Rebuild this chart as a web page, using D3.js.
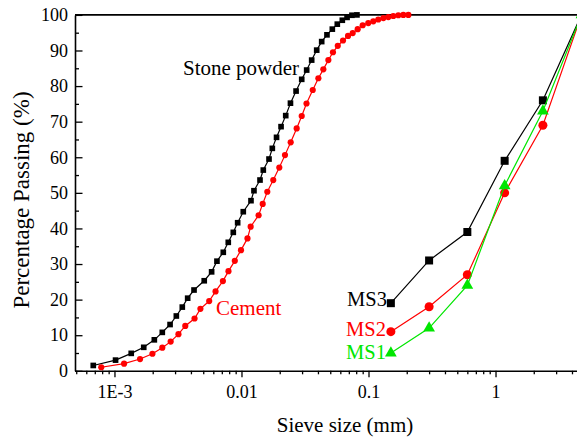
<!DOCTYPE html>
<html>
<head>
<meta charset="utf-8">
<script src="https://cdn.jsdelivr.net/npm/d3@7"></script>
<style>
  body { margin: 0; background: #fff; }
  svg { display: block; }
  svg text { font-family: "Liberation Serif", "Times New Roman", serif !important; }
</style>
</head>
<body>
<div id="chart"></div>
<script>
// stone powder (laser diffraction) - size in mm, % passing
const stoneSize = [0.000681, 0.00102, 0.001355, 0.0017, 0.00206, 0.00238, 0.00274, 0.00307, 0.00342, 0.00377,
  0.00423, 0.00509, 0.00582, 0.00641, 0.00719, 0.00787, 0.00862, 0.00933, 0.01033, 0.01188,
  0.01254, 0.01399, 0.01485, 0.01647, 0.01749, 0.01888, 0.02049, 0.0223, 0.0243, 0.0269,
  0.0298, 0.0326, 0.0357, 0.0391, 0.0428, 0.0471, 0.0519, 0.0568, 0.0622, 0.0678, 0.0741, 0.0811];
const stonePass = [1.5, 3.0, 4.9, 6.6, 8.7, 10.8, 13.0, 15.4, 17.9, 20.4,
  22.7, 25.3, 27.8, 30.8, 33.3, 36.1, 38.9, 41.6, 44.7, 47.8,
  50.6, 53.6, 56.4, 59.5, 62.5, 65.6, 68.6, 71.7, 75.2, 78.6,
  81.9, 84.5, 87.3, 90.1, 92.5, 94.4, 96.0, 97.4, 98.5, 99.3, 99.9, 100];

// cement
const cementSize = [0.000787, 0.00119, 0.00159, 0.00199, 0.00238, 0.00277, 0.00319, 0.00361, 0.00427, 0.00475,
  0.00557, 0.00625, 0.00714, 0.0079, 0.00886, 0.00991, 0.01115, 0.01181, 0.01364, 0.01469,
  0.01597, 0.01779, 0.01985, 0.022, 0.0244, 0.0272, 0.0298, 0.0325, 0.0364, 0.0403,
  0.0441, 0.0483, 0.0525, 0.0573, 0.063, 0.069, 0.0751, 0.0822, 0.09, 0.0996,
  0.1091, 0.1194, 0.1309, 0.1432, 0.1567, 0.1717, 0.188, 0.206];
const cementPass = [1.0, 2.0, 3.3, 4.8, 6.5, 8.2, 10.3, 12.6, 14.7, 17.4,
  19.6, 22.3, 25.2, 28.0, 30.9, 33.9, 37.2, 40.5, 43.7, 46.9,
  50.3, 53.6, 57.1, 60.6, 64.2, 68.1, 71.6, 75.1, 78.9, 82.2,
  84.7, 87.3, 89.5, 91.3, 92.8, 94.1, 94.9, 96.0, 97.1, 97.7,
  98.2, 98.7, 99.1, 99.4, 99.7, 99.9, 100, 100];

// manufactured sand gradings
const sieveSize = [0.15, 0.3, 0.6, 1.18, 2.36, 4.75];
const ms1 = [5, 12, 24, 52, 73, 100];
const ms2 = [11, 18, 27, 50, 69, 100];
const ms3 = [19, 31, 39, 59, 76, 100];

const xMajor = [0.001, 0.01, 0.1, 1];
const xMajorLabels = ["1E-3", "0.01", "0.1", "1"];
const yMajor = [0, 10, 20, 30, 40, 50, 60, 70, 80, 90, 100];

const W = 577, H = 439;
const plotLeft = 75, plotRight = 577, plotTop = 14.9, plotBottom = 370.8;
const green = "#00e600";

const svg = d3.select("#chart").append("svg")
  .attr("width", W)
  .attr("height", H);

const x = d3.scaleLog().domain([0.000489, 4.38]).range([plotLeft, plotRight]);
const y = d3.scaleLinear().domain([0, 100]).range([plotBottom, plotTop]);

// minor x ticks: 2..9 of each decade
const xMinor = [];
[0.0001, 0.001, 0.01, 0.1, 1].forEach(function(d){
  for (let k = 2; k <= 9; k++) {
    const v = d * k;
    if (v >= 0.000489 && v <= 4.38) xMinor.push(v);
  }
});

// x axis
svg.append("g")
  .attr("transform", `translate(0,${plotBottom})`)
  .call(d3.axisBottom(x).tickValues(xMinor).tickSize(3.5).tickFormat(""))
  .call(g => g.select(".domain").remove());
const xAx = svg.append("g")
  .attr("transform", `translate(0,${plotBottom})`)
  .call(d3.axisBottom(x).tickValues(xMajor).tickSize(6.5).tickSizeOuter(0).tickPadding(8)
    .tickFormat((d, i) => xMajorLabels[i]));
xAx.select(".domain").attr("stroke-width", 1.6);
xAx.selectAll("text").attr("font-size", 18).attr("fill", "#000");

// y axis, ticks pointing inward
svg.append("g")
  .attr("transform", `translate(${plotLeft},0)`)
  .call(d3.axisLeft(y).tickValues(d3.range(5, 100, 10)).tickSize(-4).tickFormat(""))
  .call(g => g.select(".domain").remove());
const yAx = svg.append("g")
  .attr("transform", `translate(${plotLeft},0)`)
  .call(d3.axisLeft(y).tickValues(yMajor).tickSize(-7.5).tickSizeOuter(0).tickPadding(7));
yAx.select(".domain").attr("stroke-width", 1.6);
yAx.selectAll("text").attr("font-size", 18).attr("fill", "#000");
svg.selectAll(".tick line").attr("stroke-width", 1.3);

// top frame line
svg.append("line")
  .attr("x1", plotLeft).attr("x2", W)
  .attr("y1", plotTop).attr("y2", plotTop)
  .attr("stroke", "#000").attr("stroke-width", 1.6);

const line = d3.line()
  .x(d => x(d[0]))
  .y(d => y(d[1]));

function drawSeries(sizes, vals, color, shape, size) {
  const pts = sizes.map((s, i) => [s, vals[i]]);
  svg.append("path")
    .datum(pts)
    .attr("fill", "none")
    .attr("stroke", color)
    .attr("stroke-width", 1.2)
    .attr("d", line);
  svg.append("g").selectAll("path")
    .data(pts)
    .join("path")
    .attr("transform", d => `translate(${x(d[0])},${y(d[1])})`)
    .attr("d", d3.symbol().type(shape).size(size))
    .attr("fill", color);
}

drawSeries(stoneSize, stonePass, "#000", d3.symbolSquare, 32);
drawSeries(cementSize, cementPass, "#ff0000", d3.symbolCircle, 30);
drawSeries(sieveSize, ms3, "#000", d3.symbolSquare, 64);
drawSeries(sieveSize, ms2, "#ff0000", d3.symbolCircle, 64);
drawSeries(sieveSize, ms1, green, d3.symbolTriangle, 60);

// curve labels
const labels = [
  {t: "Stone powder", x: 183, y: 75, c: "#000", s: 21},
  {t: "Cement", x: 216, y: 315, c: "#ff0000", s: 21},
  {t: "MS3", x: 347, y: 306, c: "#000", s: 20.5},
  {t: "MS2", x: 346, y: 336, c: "#ff0000", s: 20.5},
  {t: "MS1", x: 346, y: 359, c: green, s: 20.5}
];
svg.append("g").selectAll("text")
  .data(labels)
  .join("text")
  .attr("x", d => d.x)
  .attr("y", d => d.y)
  .attr("fill", d => d.c)
  .attr("font-size", d => d.s)
  .text(d => d.t);

// axis titles
svg.append("text")
  .attr("x", 345).attr("y", 432)
  .attr("text-anchor", "middle")
  .attr("font-size", 21)
  .text("Sieve size (mm)");
svg.append("text")
  .attr("transform", "translate(29,200) rotate(-90)")
  .attr("text-anchor", "middle")
  .attr("font-size", 23)
  .text("Percentage Passing (%)");
</script>
</body>
</html>
